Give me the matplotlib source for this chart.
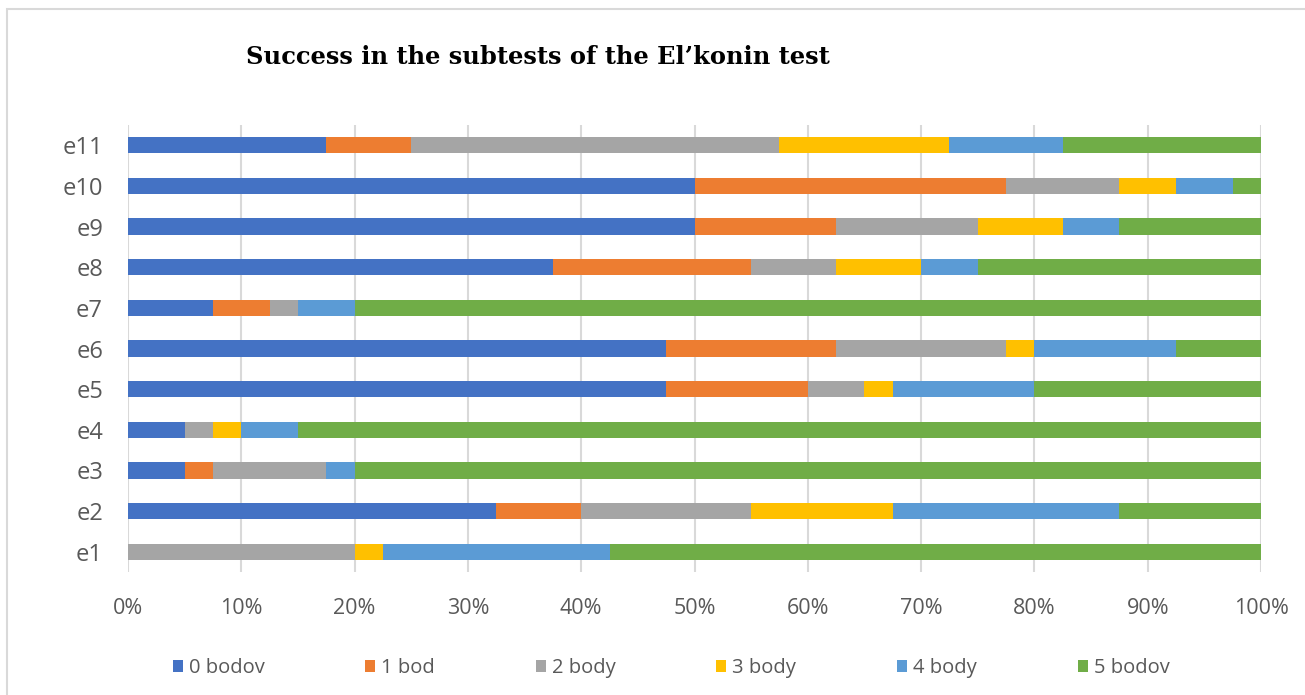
import matplotlib
matplotlib.use("Agg")
import matplotlib.pyplot as plt
from matplotlib.patches import Patch, Rectangle
import numpy as np

categories = ["e1", "e2", "e3", "e4", "e5", "e6", "e7", "e8", "e9", "e10", "e11"]
series_names = ["0 bodov", "1 bod", "2 body", "3 body", "4 body", "5 bodov"]
s0 = [0, 32.5, 5, 5, 47.5, 47.5, 7.5, 37.5, 50, 50, 17.5]
s1 = [0, 7.5, 2.5, 0, 12.5, 15, 5, 17.5, 12.5, 27.5, 7.5]
s2 = [20, 15, 10, 2.5, 5, 15, 2.5, 7.5, 12.5, 10, 32.5]
s3 = [2.5, 12.5, 0, 2.5, 2.5, 2.5, 0, 7.5, 7.5, 5, 15]
s4 = [20, 20, 2.5, 5, 12.5, 12.5, 5, 5, 5, 5, 10]
s5 = [57.5, 12.5, 80, 85, 20, 7.5, 80, 25, 12.5, 2.5, 17.5]
colors = ["#4472C4", "#ED7D31", "#A5A5A5", "#FFC000", "#5B9BD5", "#70AD47"]
xtick_labels = ["0%", "10%", "20%", "30%", "40%", "50%", "60%", "70%", "80%", "90%", "100%"]

W, H = 1305, 695
fig = plt.figure(figsize=(W / 100, H / 100), dpi=100)
fig.patch.set_facecolor("white")

# outer border
fig.patches.append(Rectangle((7 / W, -0.05), 1.1, 1 - 9 / H + 0.05, transform=fig.transFigure,
                             fill=False, edgecolor="#d9d9d9", linewidth=1.5))

ax = fig.add_axes([128 / W, 1 - 572 / H, (1261 - 128) / W, (572 - 125) / H])

data = [s0, s1, s2, s3, s4, s5]
y = np.arange(len(categories))
left = np.zeros(len(categories))
for vals, name, c in zip(data, series_names, colors):
    v = np.array(vals, dtype=float)
    ax.barh(y, v, left=left, height=0.4, color=c, label=name, linewidth=0, zorder=3)
    left += v

ax.set_xlim(0, 100)
ax.set_ylim(-0.5, len(categories) - 0.5)
ax.set_xticks(np.arange(0, 101, 10))
ax.set_xticklabels(xtick_labels, fontfamily="Open Sans", fontsize=15.5, color="#595959")
ax.set_yticks(y)
ax.set_yticklabels(categories, fontfamily="Open Sans", fontsize=17, color="#595959")
ax.tick_params(axis="x", length=0, pad=19)
ax.tick_params(axis="y", length=0, pad=18)
ax.grid(axis="x", color="#d9d9d9", linewidth=1.5, zorder=0)
for s in ["top", "right", "bottom", "left"]:
    ax.spines[s].set_visible(False)

fig.text(538 / W, 1 - 57 / H, "Success in the subtests of the El\u2019konin test",
         fontfamily="DejaVu Serif", fontweight="bold", fontsize=17.4, color="#000000",
         ha="center", va="center")

handles = [Patch(facecolor=c, edgecolor="none") for c in colors]
leg = fig.legend(handles, series_names, loc="center", bbox_to_anchor=(671 / W, 1 - 668 / H),
                 ncol=6, frameon=False, handlelength=0.5, handleheight=0.5, handletextpad=0.3,
                 columnspacing=5.0, prop={"family": "Open Sans", "size": 14.5})
for t in leg.get_texts():
    t.set_color("#595959")

fig.savefig("out.png", dpi=100, facecolor="white")
